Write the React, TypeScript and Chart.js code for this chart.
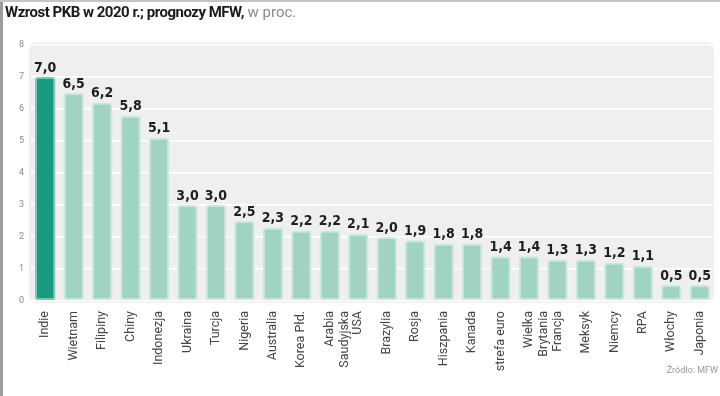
import React, { useEffect, useRef } from "react";
import { Chart, registerables } from "chart.js";

Chart.register(...registerables);

const categories: (string | string[])[] = [
  "Indie", "Wietnam", "Filipiny", "Chiny", "Indonezja", "Ukraina", "Turcja", "Nigeria",
  "Australia", "Korea Płd.", ["Arabia", "Saudyjska"], "USA", "Brazylia", "Rosja", "Hiszpania",
  "Kanada", "strefa euro", ["Wielka", "Brytania"], "Francja", "Meksyk", "Niemcy", "RPA",
  "Włochy", "Japonia",
];
const values: number[] = [
  7.0, 6.5, 6.2, 5.8, 5.1, 3.0, 3.0, 2.5, 2.3, 2.2, 2.2, 2.1, 2.0, 1.9, 1.8, 1.8, 1.4, 1.4,
  1.3, 1.3, 1.2, 1.1, 0.5, 0.5,
];
const yTicks: number[] = [0, 1, 2, 3, 4, 5, 6, 7, 8];
const highlightIndex = 0;

const LABEL_FONT = "'DejaVu Sans Condensed', 'Liberation Sans Narrow', 'Roboto Condensed', Roboto, sans-serif";

export default function App() {
  const ref = useRef<HTMLCanvasElement | null>(null);

  useEffect(() => {
    document.body.style.margin = "0";
    const canvas = ref.current!;
    const bgPlugin = {
      id: "plotBg",
      beforeDraw(chart: any) {
        const { ctx, chartArea } = chart;
        const x = chartArea.left - 2;
        const y = chartArea.top - 3;
        const w = chartArea.right - chartArea.left + 2;
        const h = chartArea.bottom - chartArea.top + 5;
        ctx.save();
        ctx.fillStyle = "#efefef";
        ctx.beginPath();
        (ctx as any).roundRect(x, y, w, h, 8);
        ctx.fill();
        ctx.restore();
      },
    };
    const valuePlugin = {
      id: "valueLabels",
      afterDatasetsDraw(chart: any) {
        const { ctx } = chart;
        const meta = chart.getDatasetMeta(0);
        ctx.save();
        ctx.font = `bold 14px ${LABEL_FONT}`;
        ctx.fillStyle = "#1e1e1e";
        ctx.textAlign = "center";
        ctx.textBaseline = "bottom";
        meta.data.forEach((bar: any, i: number) => {
          const txt = values[i].toFixed(1).replace(".", ",");
          ctx.fillText(txt, bar.x, bar.y - 2);
        });
        ctx.restore();
      },
    };

    const chart = new Chart(canvas, {
      type: "bar",
      data: {
        labels: categories,
        datasets: [
          {
            data: values,
            backgroundColor: values.map((_, i) => (i === highlightIndex ? "#1b9a82" : "#a0d3c4")),
            borderColor: values.map((_, i) => (i === highlightIndex ? "#7fc6b4" : "#cde6de")),
            borderWidth: 2,
            borderRadius: 3,
            borderSkipped: false,
            barPercentage: 0.72,
            categoryPercentage: 1,
          },
        ],
      },
      options: {
        animation: false,
        responsive: false,
        maintainAspectRatio: false,
        layout: { padding: { top: 45, right: 6, left: 0, bottom: 0 } },
        plugins: { legend: { display: false }, tooltip: { enabled: false } },
        scales: {
          x: {
            grid: { display: false },
            border: { display: false },
            ticks: {
              color: "#444",
              font: { family: "Roboto, sans-serif", size: 12.5 },
              minRotation: 90,
              maxRotation: 90,
              autoSkip: false,
              padding: 2,
            },
            afterFit(scale: any) {
              scale.height = 95;
            },
          },
          y: {
            min: 0,
            max: 8,
            afterBuildTicks(scale: any) {
              scale.ticks = yTicks.map((v) => ({ value: v }));
            },
            grid: { color: "#ffffff", lineWidth: 1.5, drawTicks: false },
            border: { display: false },
            ticks: {
              color: "#8a8a8a",
              font: { family: "Roboto, sans-serif", size: 9 },
              padding: 7,
              align: "center",
            },
            afterFit(scale: any) {
              scale.width = 31;
            },
          },
        },
      },
      plugins: [bgPlugin, valuePlugin],
    });
    return () => chart.destroy();
  }, []);

  return (
    <div
      style={{
        position: "absolute",
        left: 0,
        top: 0,
        width: 720,
        height: 396,
        background: "#ffffff",
        overflow: "hidden",
        fontFamily: "Roboto, sans-serif",
      }}
    >
      <div style={{ position: "absolute", left: 0, top: 0, width: 3, height: 396, background: "#9c9c9c" }} />
      <div style={{ position: "absolute", left: 0, top: 0, width: 720, height: 2, background: "#c4c4c4" }} />
      <canvas ref={ref} width={720} height={396} style={{ position: "absolute", left: 0, top: 0 }} />
      <div
        style={{
          position: "absolute",
          left: 5,
          top: 3,
          fontSize: 15,
          color: "#1a1a1a",
          whiteSpace: "nowrap",
        }}
      >
        <span style={{ fontWeight: 700, letterSpacing: -0.5 }}>Wzrost PKB w 2020 r.; prognozy MFW,</span>
        <span style={{ color: "#8a8a8a" }}> w proc.</span>
      </div>
      <div
        style={{
          position: "absolute",
          right: 2,
          top: 365,
          fontSize: 9,
          color: "#999",
          whiteSpace: "nowrap",
        }}
      >
        Źródło: MFW
      </div>
    </div>
  );
}
